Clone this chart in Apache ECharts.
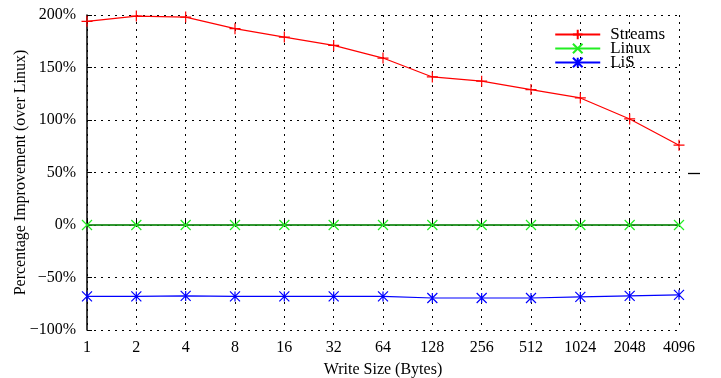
<!DOCTYPE html>
<html><head><meta charset="utf-8">
<script src="https://cdn.jsdelivr.net/npm/echarts@6/dist/echarts.min.js"></script>
<style>html,body{margin:0;padding:0;background:#fff}#c{width:721px;height:378px}</style>
</head><body><div id="c"></div>
<script>
const categories = ['1','2','4','8','16','32','64','128','256','512','1024','2048','4096'];
const streams = [194, 199, 198, 187, 179, 171, 159, 141, 137, 129, 121, 101, 76];
const linux = [0,0,0,0,0,0,0,0,0,0,0,0,0];
const lis = [-68, -68, -67.5, -68, -68, -68, -68, -69.5, -69.5, -69.5, -68.5, -67.5, -66.5];
const yTicks = [-100, -50, 0, 50, 100, 150, 200];

const font = 'Liberation Serif';
const chart = echarts.init(document.getElementById('c'));
const gridDot = {show:true, lineStyle:{color:'#000', type:[2,5], width:1}};
chart.setOption({
  animation:false,
  textStyle:{fontFamily:font},
  grid:{left:87, right:42, top:15, bottom:48, outerBoundsMode:'none'},
  legend:{
    right:51, top:21, orient:'vertical', itemGap:-3, itemWidth:45, itemHeight:12,
    textStyle:{fontFamily:font, fontSize:17, color:'#000', lineHeight:14, padding:[0,0,0,5]},
    data:['Streams','Linux','LiS']
  },
  xAxis:{
    type:'category', data:categories, boundaryGap:false,
    name:'Write Size (Bytes)', nameLocation:'middle', nameGap:32, nameMoveOverlap:false,
    nameTextStyle:{fontFamily:font, fontSize:16, color:'#000'},
    axisLine:{lineStyle:{color:'#000', width:1.5}},
    axisTick:{inside:true, length:5, lineStyle:{color:'#000'}},
    axisLabel:{fontFamily:font, fontSize:16, color:'#000', margin:10},
    splitLine:gridDot
  },
  yAxis:{
    type:'value', min:-100, max:200, interval:50,
    name:'Percentage Improvement (over Linux)', nameLocation:'middle', nameGap:58, nameMoveOverlap:false,
    nameTextStyle:{fontFamily:font, fontSize:16, color:'#000'},
    axisLine:{show:true, lineStyle:{color:'#000', width:1.5}},
    axisTick:{show:true, inside:true, length:5, lineStyle:{color:'#000'}},
    axisLabel:{fontFamily:font, fontSize:16, color:'#000', margin:11,
      formatter:v=> yTicks.includes(v) ? (v<0 ? '\u2212'+(-v)+'%' : v+'%') : ''},
    splitLine:gridDot
  },
  series:[
    {name:'Streams', type:'line', data:streams, color:'#ff0000', symbol:'path://M5,0L5,10M0,5L10,5', symbolSize:11,
      lineStyle:{width:1.2}, itemStyle:{color:'#ff0000', borderColor:'#ff0000', borderWidth:1.2}},
    {name:'Linux', type:'line', data:linux, color:'#22ee22', symbol:'path://M0,0L10,10M10,0L0,10', symbolSize:10,
      lineStyle:{width:1}, itemStyle:{color:'#22ee22', borderColor:'#22ee22', borderWidth:1.2}},
    {name:'LiS', type:'line', data:lis, color:'#0000ff', symbol:'path://M0,0L10,10M10,0L0,10M5,0L5,10', symbolSize:10,
      lineStyle:{width:1.2}, itemStyle:{color:'#0000ff', borderColor:'#0000ff', borderWidth:1.2}}
  ]
});
const p = chart.convertToPixel({gridIndex:0}, [categories.length-1, 50]);
chart.setOption({graphic:[{type:'line', shape:{x1:p[0]+9, y1:p[1]+1, x2:p[0]+21, y2:p[1]+1}, style:{stroke:'#000', lineWidth:1.3}}]});
</script></body></html>
